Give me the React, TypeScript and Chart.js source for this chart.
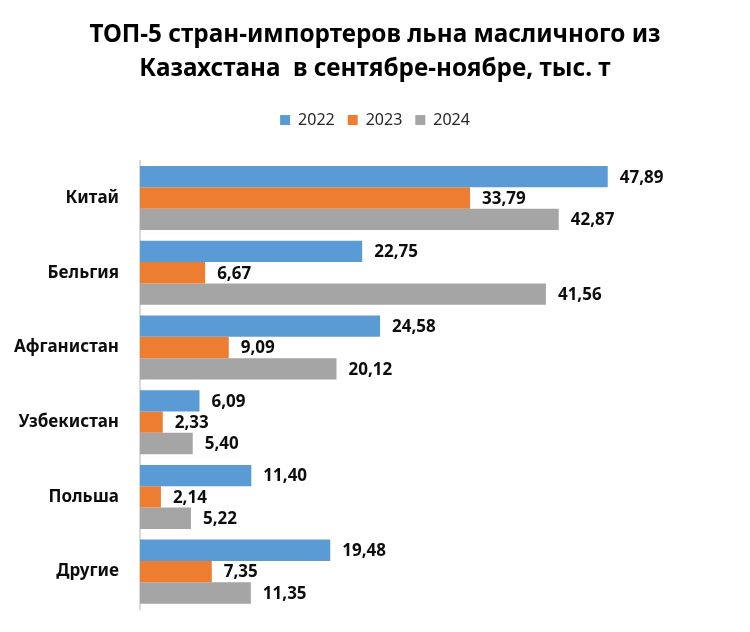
import React, { useEffect, useRef } from "react";
import { Chart, registerables } from "chart.js";

Chart.register(...registerables);

const categories = ["Китай", "Бельгия", "Афганистан", "Узбекистан", "Польша", "Другие"];
const seriesNames = ["2022", "2023", "2024"];
const values2022 = [47.89, 22.75, 24.58, 6.09, 11.4, 19.48];
const values2023 = [33.79, 6.67, 9.09, 2.33, 2.14, 7.35];
const values2024 = [42.87, 41.56, 20.12, 5.4, 5.22, 11.35];
const colors = ["#5B9BD5", "#ED7D31", "#A5A5A5"];
const titleLines = ["ТОП-5 стран-импортеров льна масличного из", "Казахстана  в сентябре-ноябре, тыс. т"];

const FONT = "'Noto Sans', 'DejaVu Sans', sans-serif";

const valueLabels = {
  id: "valueLabels",
  afterDatasetsDraw(chart: any) {
    const ctx = chart.ctx;
    ctx.save();
    ctx.font = `bold 17px ${FONT}`;
    ctx.fillStyle = "#0d0d0d";
    ctx.textAlign = "left";
    ctx.textBaseline = "middle";
    chart.data.datasets.forEach((ds: any, di: number) => {
      const meta = chart.getDatasetMeta(di);
      meta.data.forEach((bar: any, i: number) => {
        const v = ds.data[i] as number;
        ctx.fillText(v.toFixed(2).replace(".", ","), bar.x + 12, bar.y + 1);
      });
    });
    ctx.restore();
  },
};

export default function App() {
  const ref = useRef<HTMLCanvasElement | null>(null);
  useEffect(() => {
    document.body.style.margin = "0";
    const all = [values2022, values2023, values2024];
    const chart = new Chart(ref.current as HTMLCanvasElement, {
      type: "bar",
      data: {
        labels: categories,
        datasets: all.map((d, i) => ({
          label: seriesNames[i],
          data: d,
          backgroundColor: colors[i],
          borderWidth: 0,
          categoryPercentage: 0.857,
          barPercentage: 1,
        })),
      },
      options: {
        indexAxis: "y",
        animation: false,
        responsive: false,
        layout: { padding: { left: 0, right: 0, top: 0, bottom: 23 } },
        plugins: {
          title: {
            display: true,
            text: titleLines,
            color: "#000",
            font: { family: FONT, size: 24.3, weight: "bold", lineHeight: 1.4 },
            padding: { top: 18, bottom: 13 },
          },
          legend: {
            display: true,
            position: "top",
            labels: {
              boxWidth: 10,
              boxHeight: 10,
              padding: 13,
              color: "#262626",
              font: { family: FONT, size: 16 },
            },
          },
          tooltip: { enabled: false },
        },
        scales: {
          x: {
            position: "top",
            min: 0,
            max: 60,
            grid: { display: false, drawTicks: false },
            border: { display: false },
            ticks: { display: false },
            title: {
              display: true,
              text: " ",
              color: "rgba(0,0,0,0)",
              font: { size: 22.6, lineHeight: 1 },
              padding: 0,
            },
          },
          y: {
            grid: { display: false, drawTicks: false },
            border: { display: true, color: "#D9D9D9", width: 2 },
            ticks: {
              color: "#0d0d0d",
              padding: 21,
              font: { family: FONT, size: 17, weight: "bold" },
            },
            afterFit: (scale: any) => {
              scale.width = 140;
              scale.paddingTop = 0;
              scale.paddingBottom = 0;
            },
          },
          yRight: {
            type: "category",
            position: "right",
            grid: { display: false, drawTicks: false },
            border: { display: false },
            ticks: { display: false },
            afterFit: (scale: any) => {
              scale.width = 24;
              scale.paddingTop = 0;
              scale.paddingBottom = 0;
            },
          },
        },
      },
      plugins: [valueLabels],
    });
    return () => chart.destroy();
  }, []);
  return <canvas ref={ref} width={750} height={632} style={{ display: "block" }} />;
}
